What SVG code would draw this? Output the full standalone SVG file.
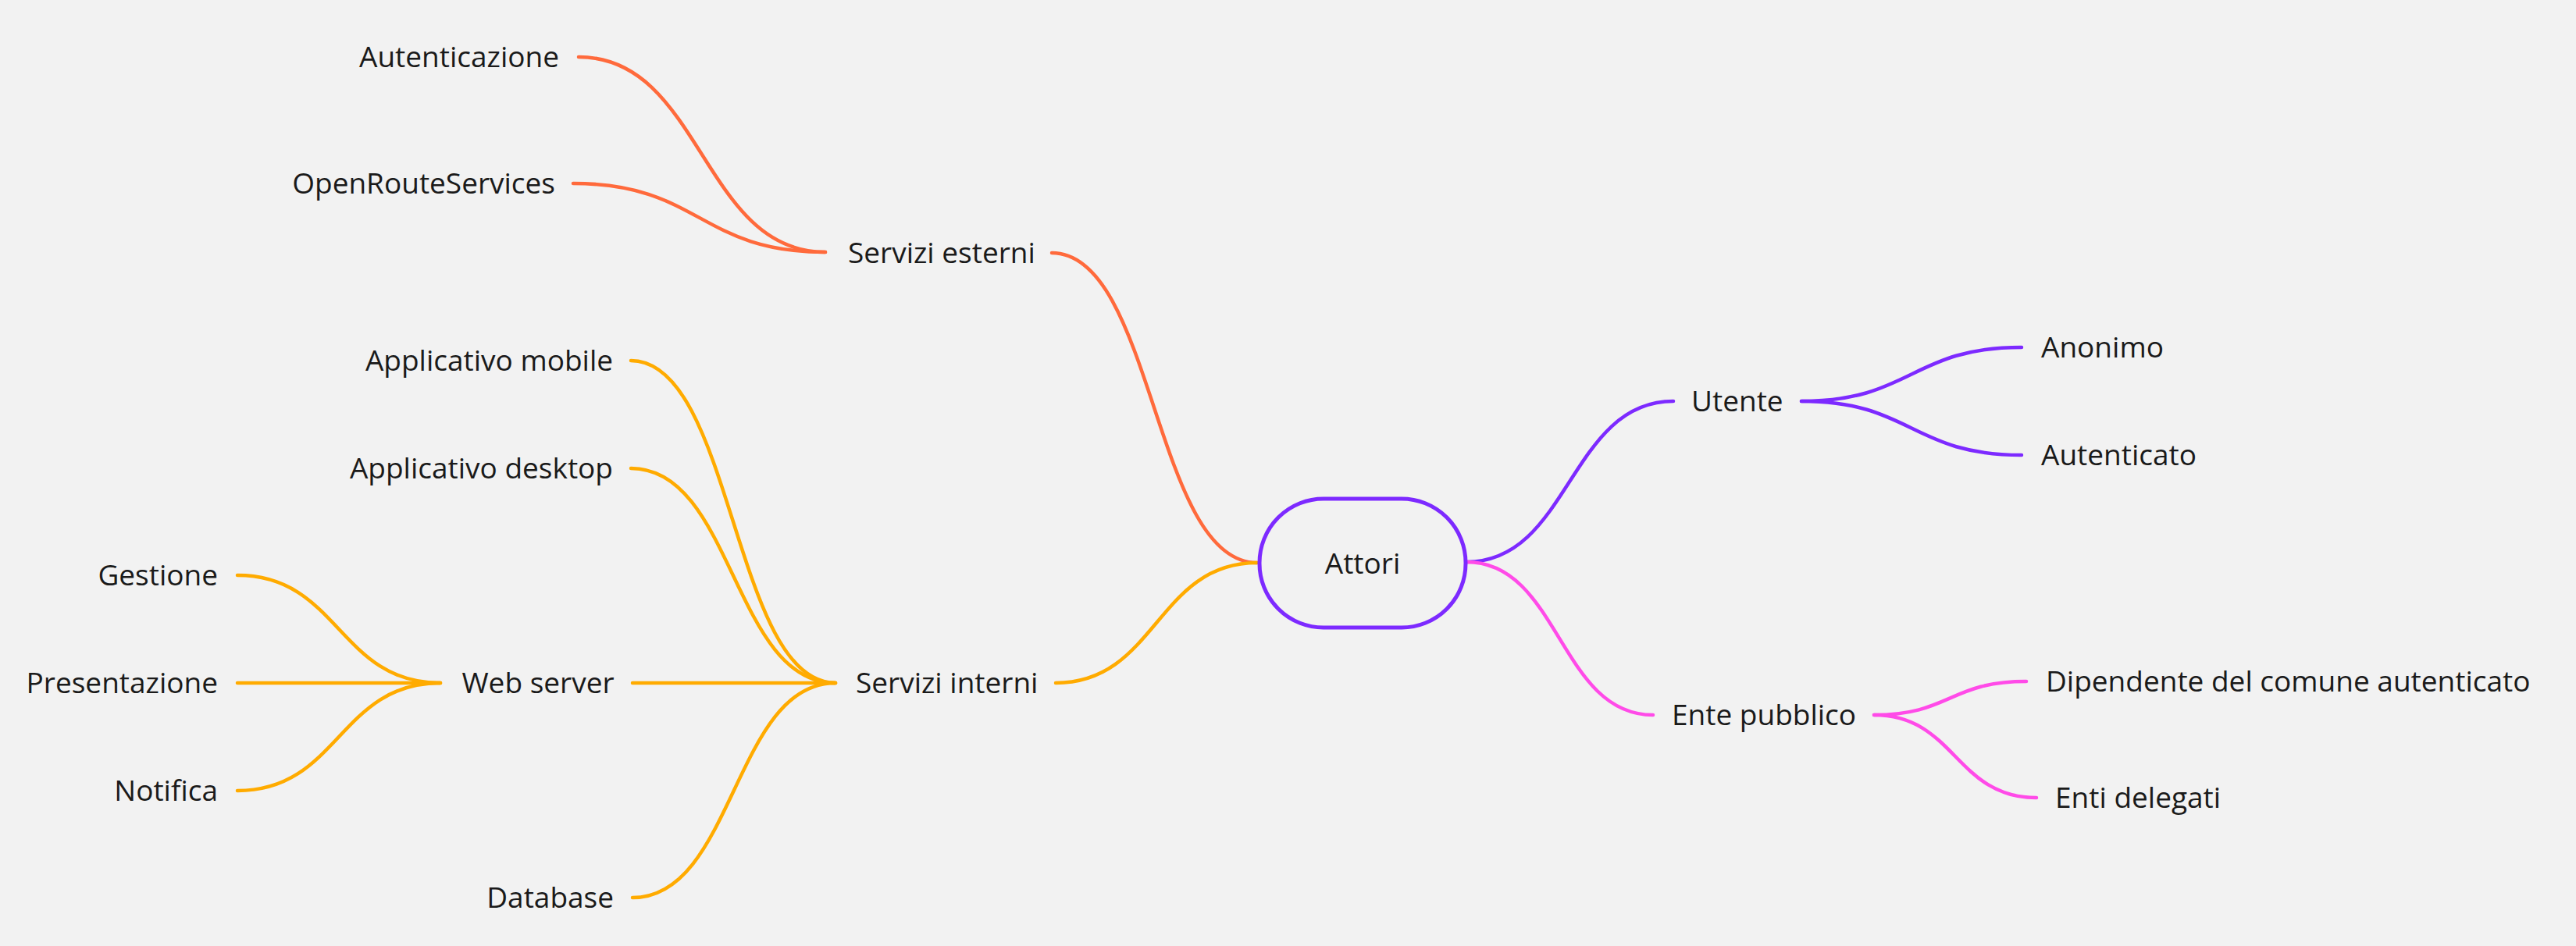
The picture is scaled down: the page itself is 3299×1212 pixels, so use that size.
<svg xmlns="http://www.w3.org/2000/svg" width="3299" height="1212" viewBox="0 0 3299 1212">
<style>
text{font-family:"Open Sans","Noto Sans","DejaVu Sans",sans-serif;font-size:37px;fill:#1a1a1a}
.c{fill:none;stroke-width:4.5;stroke-linecap:round}
.o{stroke:#ff6a3c}
.y{stroke:#ffab00}
.p{stroke:#7d2aff}
.k{stroke:#ff4be8}
.e{text-anchor:end}
.m{text-anchor:middle}
</style>
<rect width="3299" height="1212" fill="#f2f2f2"/>
<g id="connectors">
<path class="c o" d="M1347 324 C1478 324 1478 721 1610 721"/>
<path class="c y" d="M1352 875 C1481 875 1481 721 1610 721"/>
<path class="c p" d="M1878 720 C2010 720 2010 514 2143 514"/>
<path class="c k" d="M1878 720 C1997 720 1997 916 2117 916"/>
<path class="c o" d="M741 73 C899 73 899 323 1057 323"/>
<path class="c o" d="M734 235 C896 235 896 323 1057 323"/>
<path class="c y" d="M808 462 C939 462 939 875 1070 875"/>
<path class="c y" d="M808 600 C939 600 939 875 1070 875"/>
<path class="c y" d="M810 875 L1070 875"/>
<path class="c y" d="M810 1150 C940 1150 940 875 1070 875"/>
<path class="c y" d="M304 737 C434 737 434 875 564 875"/>
<path class="c y" d="M304 875 L564 875"/>
<path class="c y" d="M304 1013 C434 1013 434 875 564 875"/>
<path class="c p" d="M2307 514 C2448 514 2448 445 2589 445"/>
<path class="c p" d="M2307 514 C2448 514 2448 583 2589 583"/>
<path class="c k" d="M2400 916 C2497 916 2497 873 2595 873"/>
<path class="c k" d="M2400 916 C2504 916 2504 1022 2608 1022"/>
</g>
<g id="attori">
<rect x="1613" y="639" width="264" height="165" rx="82" fill="none" stroke="#7d2aff" stroke-width="5"/>
<text class="m" x="1745" y="735">Attori</text>
</g>
<g id="servizi-esterni"><text x="1086" y="337">Servizi esterni</text></g>
<g id="autenticazione"><text class="e" x="716" y="86">Autenticazione</text></g>
<g id="openrouteservices"><text class="e" x="711" y="248">OpenRouteServices</text></g>
<g id="servizi-interni"><text x="1096" y="888">Servizi interni</text></g>
<g id="applicativo-mobile"><text class="e" x="785" y="475">Applicativo mobile</text></g>
<g id="applicativo-desktop"><text class="e" x="785" y="613">Applicativo desktop</text></g>
<g id="web-server"><text class="m" x="689" y="888">Web server</text></g>
<g id="database"><text class="e" x="786" y="1163">Database</text></g>
<g id="gestione"><text class="e" x="279" y="750">Gestione</text></g>
<g id="presentazione"><text class="e" x="279" y="888">Presentazione</text></g>
<g id="notifica"><text class="e" x="279" y="1026">Notifica</text></g>
<g id="utente"><text x="2166" y="527">Utente</text></g>
<g id="anonimo"><text x="2614" y="458">Anonimo</text></g>
<g id="autenticato"><text x="2614" y="596">Autenticato</text></g>
<g id="ente-pubblico"><text x="2141" y="929">Ente pubblico</text></g>
<g id="dipendente"><text x="2620" y="886">Dipendente del comune autenticato</text></g>
<g id="enti-delegati"><text x="2632" y="1035">Enti delegati</text></g>
</svg>
